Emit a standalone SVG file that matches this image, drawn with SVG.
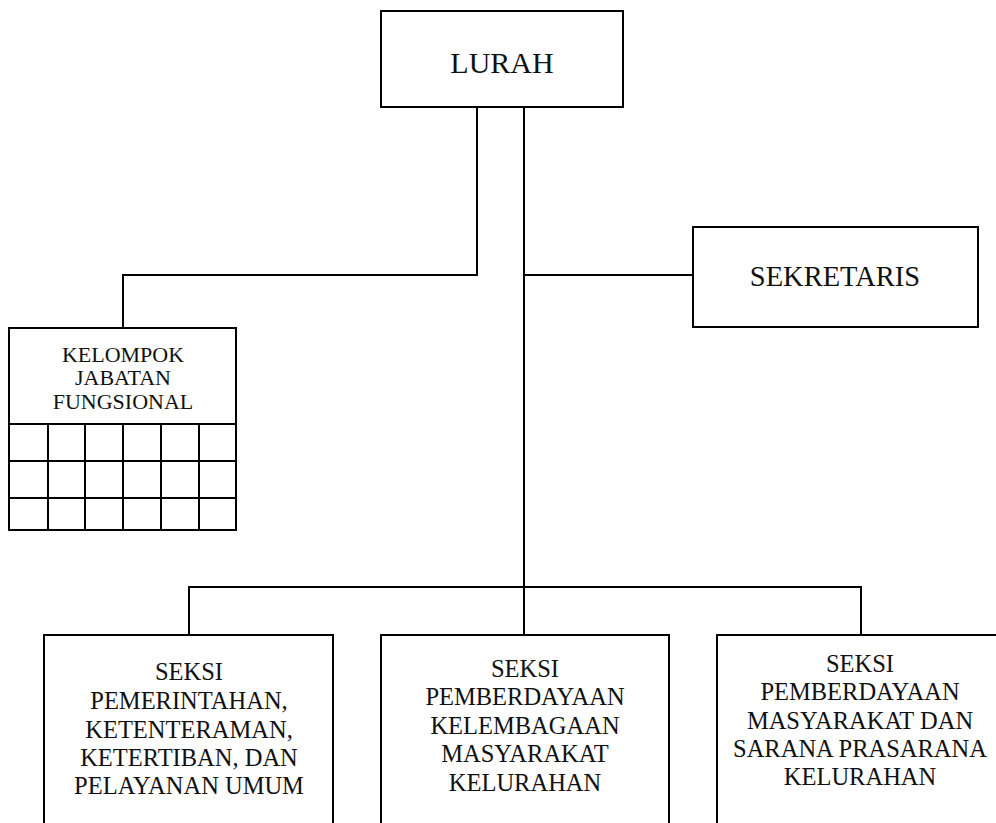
<svg xmlns="http://www.w3.org/2000/svg" width="996" height="823" viewBox="0 0 996 823">
<style>
.box{fill:#fff;stroke:#000;stroke-width:2}
.ln{fill:none;stroke:#000;stroke-width:2}
text{font-family:"Liberation Serif","DejaVu Serif",serif;fill:#111;text-anchor:middle}
.t1{font-size:30px}
.t2{font-size:28.5px}
.t3{font-size:22px}
.t4{font-size:24.5px}
</style>
<rect width="996" height="823" fill="#fff"/>
<g id="connectors">
<path class="ln" d="M477 107V275H123V328"/>
<path class="ln" d="M524 107V635"/>
<path class="ln" d="M524 275H693"/>
<path class="ln" d="M189 635V587H861V635"/>
</g>
<g id="lurah">
<rect class="box" x="381" y="11" width="242" height="96"/>
<text class="t1" x="502" y="72.5">LURAH</text>
</g>
<g id="sekretaris">
<rect class="box" x="693" y="227" width="285" height="100"/>
<text class="t2" x="835" y="286">SEKRETARIS</text>
</g>
<g id="kelompok">
<rect class="box" x="9" y="328" width="227" height="202"/>
<text class="t3" x="123" y="361.5">KELOMPOK</text>
<text class="t3" x="123" y="384.5">JABATAN</text>
<text class="t3" x="123" y="409">FUNGSIONAL</text>
<path class="ln" d="M9 424H236M9 461H236M9 498H236M48 424V530M85 424V530M123 424V530M161 424V530M199 424V530"/>
</g>
<g id="seksi1">
<rect class="box" x="44" y="635" width="289" height="200"/>
<text class="t4" x="189" y="680">SEKSI</text>
<text class="t4" x="189" y="709">PEMERINTAHAN,</text>
<text class="t4" x="189" y="738">KETENTERAMAN,</text>
<text class="t4" x="189" y="766">KETERTIBAN, DAN</text>
<text class="t4" x="189" y="794">PELAYANAN UMUM</text>
</g>
<g id="seksi2">
<rect class="box" x="381" y="635" width="288" height="200"/>
<text class="t4" x="525" y="677">SEKSI</text>
<text class="t4" x="525" y="705">PEMBERDAYAAN</text>
<text class="t4" x="525" y="733.5">KELEMBAGAAN</text>
<text class="t4" x="525" y="762">MASYARAKAT</text>
<text class="t4" x="525" y="790.5">KELURAHAN</text>
</g>
<g id="seksi3">
<rect class="box" x="717" y="635" width="290" height="200"/>
<text class="t4" x="860" y="672">SEKSI</text>
<text class="t4" x="860" y="700">PEMBERDAYAAN</text>
<text class="t4" x="860" y="728.5">MASYARAKAT DAN</text>
<text class="t4" x="860" y="757">SARANA PRASARANA</text>
<text class="t4" x="860" y="785">KELURAHAN</text>
</g>
</svg>
